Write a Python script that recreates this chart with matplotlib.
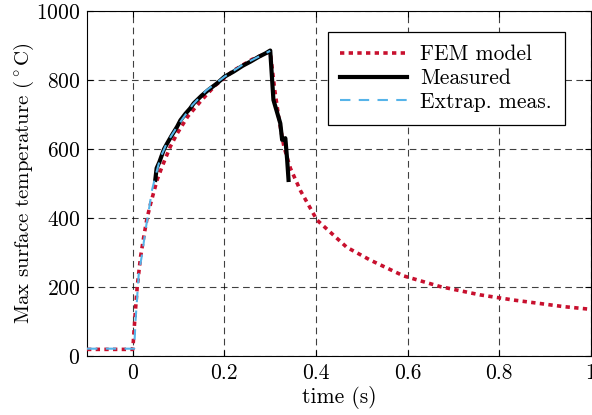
import numpy as np
import matplotlib
matplotlib.use('Agg')
import matplotlib.pyplot as plt

plt.rcParams['font.family'] = 'serif'
plt.rcParams['font.serif'] = ['cmr10', 'DejaVu Serif']
plt.rcParams['mathtext.fontset'] = 'cm'
plt.rcParams['axes.formatter.use_mathtext'] = True

# FEM model
fem_t = [-0.1, 0.0, 0.002, 0.005, 0.0096, 0.017, 0.024, 0.031, 0.039, 0.053, 0.064,
         0.082, 0.097, 0.12, 0.15, 0.18, 0.22, 0.26, 0.30, 0.31, 0.32, 0.33, 0.344,
         0.366, 0.402, 0.43, 0.467, 0.518, 0.591, 0.671, 0.758, 0.831, 0.94, 1.0]
fem_T = [20, 20, 60, 120, 202, 289, 347, 400, 443, 511, 550,
         608, 646, 695, 742, 785, 828, 860, 883, 770, 680, 607, 545,
         480, 395, 361, 316, 279, 233, 202, 178, 163, 144, 136]

# Measured
meas_t = [0.049, 0.052, 0.058, 0.068, 0.075, 0.085, 0.097, 0.104, 0.115, 0.125, 0.133,
          0.15, 0.165, 0.184, 0.2, 0.22, 0.24, 0.257, 0.275, 0.29, 0.300,
          0.307, 0.322, 0.326, 0.333, 0.337, 0.340]
meas_T = [511, 545, 563, 600, 617, 640, 666, 684, 703, 718, 733,
          755, 772, 791, 810, 825, 842, 854, 868, 878, 886,
          743, 675, 627, 632, 569, 511]

# Extrapolated measurement
ext_t = [-0.1, 0.003, 0.006, 0.013, 0.0205, 0.0277, 0.035, 0.042, 0.049, 0.06,
         0.075, 0.1, 0.13, 0.16, 0.2, 0.24, 0.27, 0.3]
ext_T = [22, 22, 105, 240, 298, 366, 424, 482, 520, 575,
         620, 672, 728, 770, 810, 845, 865, 885]

fig = plt.figure(figsize=(5.92, 4.15), dpi=100)
ax = fig.add_axes([0.147, 0.1415, 0.851, 0.8315])

ax.plot(fem_t, fem_T, color='#c8102e', lw=2.6, linestyle=(0, (1.2, 1.2)),
        label='FEM model', zorder=3)
ax.plot(meas_t, meas_T, color='black', lw=3.0, label='Measured', zorder=4,
        solid_joinstyle='round')
ax.plot(ext_t, ext_T, color='#56b4e9', lw=1.5, linestyle=(0, (5, 4)),
        label='Extrap. meas.', zorder=5)

ax.set_xlim(-0.1, 1.0)
ax.set_ylim(0, 1000)
ax.set_xticks([0, 0.2, 0.4, 0.6, 0.8, 1])
ax.set_xticklabels(['0', '0.2', '0.4', '0.6', '0.8', '1'])
ax.set_yticks([0, 200, 400, 600, 800, 1000])
ax.tick_params(direction='in', top=True, right=True, length=4, labelsize=15.5, pad=5)
ax.grid(True, color='black', alpha=0.75, lw=0.8, linestyle=(0, (6, 4)))

ax.set_xlabel('time (s)', fontsize=15.5, labelpad=2)
ax.set_ylabel(r'Max surface temperature ($^\circ$C)', fontsize=15, labelpad=0)

leg = ax.legend(loc='upper right', bbox_to_anchor=(0.948, 0.940), borderaxespad=0,
                fontsize=15.5, handlelength=3.1, handletextpad=0.6, labelspacing=0.2,
                borderpad=0.6, fancybox=False, framealpha=1, edgecolor='black')
leg.get_frame().set_linewidth(0.9)

fig.savefig('out.png', dpi=100)
